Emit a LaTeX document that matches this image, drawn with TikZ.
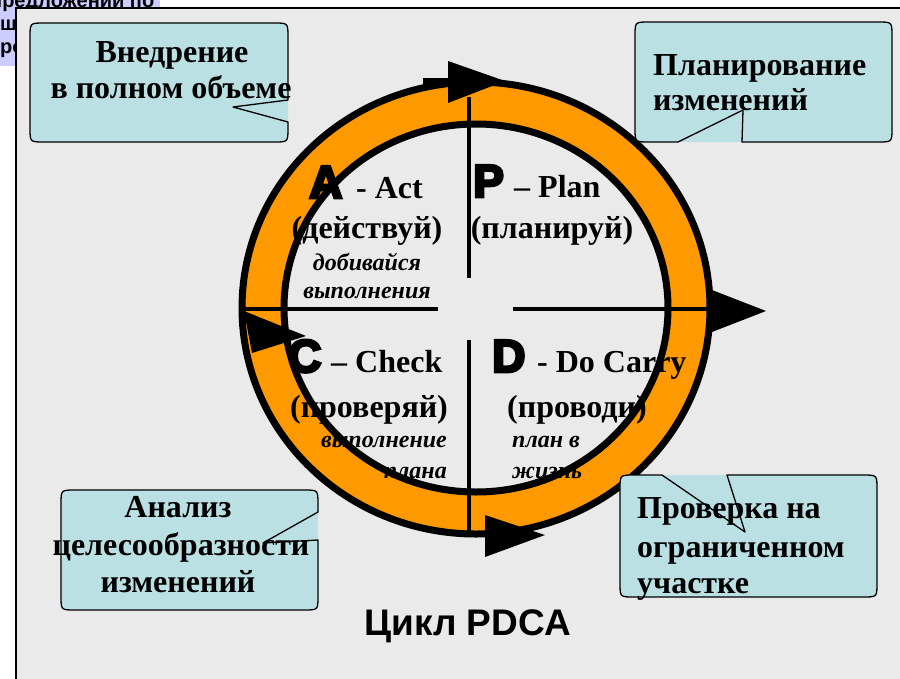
\documentclass[tikz,border=0pt]{standalone}
\usepackage{fontspec}
\setmainfont{Liberation Serif}
\newfontfamily\sansf{Liberation Sans}
\newfontfamily\heavyf{Liberation Sans Bold}[FakeBold=6]
\definecolor{panel}{HTML}{EAEAEA}
\definecolor{ringc}{HTML}{FF9900}
\definecolor{callc}{HTML}{BBE0E3}
\definecolor{lav}{HTML}{CCCCFF}
\tikzset{
  maintxt/.style={font=\bfseries\fontsize{32}{36}\selectfont, inner sep=0pt},
  notetxt/.style={font=\bfseries\itshape\fontsize{24}{28}\selectfont, inner sep=0pt},
  bigltr/.style={font=\heavyf\fontsize{46}{50}\selectfont, inner sep=0pt},
  lavtxt/.style={font=\sansf\bfseries\fontsize{20}{23}\selectfont, inner sep=0pt, anchor=base west},
  callbox/.style={fill=callc},
  callline/.style={draw=black, line width=1.3pt, line join=round},
  crossline/.style={line width=3.5pt},
  ringline/.style={line width=7pt},
  arrowhead/.style={fill=black}
}
\begin{document}
\begin{tikzpicture}[x=1pt,y=-1pt]
\useasboundingbox (0,0) rectangle (900,678);
\clip (0,0) rectangle (900,678);
\fill[white] (0,0) rectangle (900,678);
% lavender box behind panel
\fill[lav] (0,-5) rectangle (160,66);
\node[lavtxt] (lav1) at (-10,7) {предложений по};
\node[lavtxt] (lav2) at (0,30) {ше};
\node[lavtxt] (lav3) at (0,53) {ро};
% panel
\draw[fill=panel, line width=1.3pt] (16,8) rectangle (910,690);
% orange ring
\fill[ringc, even odd rule] (476,308) ellipse [x radius=234pt, y radius=226pt]
  (476,308) ellipse [x radius=192pt, y radius=184pt];
% cross lines
\coordinate (vt1) at (469,97);  \coordinate (vt2) at (469,278);
\coordinate (vb1) at (469,340); \coordinate (vb2) at (469,532);
\coordinate (hl1) at (240,309); \coordinate (hl2) at (438,309);
\coordinate (hr1) at (513,309); \coordinate (hr2) at (712,309);
\draw[crossline] (vt1) -- (vt2);
\draw[crossline] (vb1) -- (vb2);
\draw[crossline] (hl1) -- (hl2);
\draw[crossline] (hr1) -- (hr2);
% texts in circle
\node[bigltr, anchor=base west] (Aletter) at (309,198) {A};
\node[maintxt, anchor=base west] (Aword) at (356,198) {- Act};
\node[maintxt, anchor=base] (Aru) at (367,238) {(действуй)};
\node[notetxt, anchor=base] (Anote1) at (367,270) {добивайся};
\node[notetxt, anchor=base] (Anote2) at (367,298) {выполнения};
\node[bigltr, anchor=base west] (Pletter) at (473,197) {P};
\node[maintxt, anchor=base west] (Pword) at (514,197) {– Plan};
\node[maintxt, anchor=base] (Pru) at (552,238) {(планируй)};
\node[bigltr, anchor=base west] (Cletter) at (288,372) {C};
\node[maintxt, anchor=base west] (Cword) at (331,372) {– Check};
\node[maintxt, anchor=base] (Cru) at (369,417) {(проверяй)};
\node[notetxt, anchor=base east] (Cnote1) at (447,447) {выполнение};
\node[notetxt, anchor=base east] (Cnote2) at (447,478) {плана};
\node[bigltr, anchor=base west] (Dletter) at (492,372) {D};
\node[maintxt, anchor=base west] (Dword) at (537,372) {- Do Carry};
\node[maintxt, anchor=base] (Dru) at (577,417) {(проводи)};
\node[notetxt, anchor=base west] (Dnote1) at (512,447) {план в};
\node[notetxt, anchor=base west] (Dnote2) at (512,478) {жизнь};
% ring outlines
\draw[ringline] (476,308) ellipse [x radius=234pt, y radius=226pt];
\draw[ringline] (476,308) ellipse [x radius=192pt, y radius=184pt];
% arrowheads
\fill[arrowhead] (423,78) rectangle (450,86);
\fill[arrowhead] (448,61) -- (505,81) -- (448,103) -- cycle;
\fill[arrowhead] (712,290) -- (766,311) -- (712,332) -- cycle;
\fill[arrowhead] (485,515) -- (545,535) -- (485,557) -- cycle;
\fill[arrowhead] (244,311) -- (306,336) -- (252,353) -- cycle;
% callout 1 (top-left)
\fill[callbox] (44,23) -- (274,23) .. controls (288,23) .. (288,37) -- (288,128)
  .. controls (288,142) .. (274,142) -- (44,142) .. controls (30,142) .. (30,128)
  -- (30,37) .. controls (30,23) .. (44,23) -- cycle;
\draw[callline] (44,23) -- (274,23) .. controls (288,23) .. (288,37) -- (288,100)
  -- (233,107) -- (288,122) -- (288,128) .. controls (288,142) .. (274,142)
  -- (44,142) .. controls (30,142) .. (30,128) -- (30,37) .. controls (30,23) .. (44,23) -- cycle;
\node[maintxt, anchor=base] (c1a) at (172,62) {Внедрение};
\node[maintxt, anchor=base] (c1b) at (171,98) {в полном объеме};
% callout 2 (top-right)
\fill[callbox] (649,22) -- (878,22) .. controls (892,22) .. (892,36) -- (892,128)
  .. controls (892,142) .. (878,142) -- (649,142) .. controls (635,142) .. (635,128)
  -- (635,36) .. controls (635,22) .. (649,22) -- cycle;
\draw[callline] (649,22) -- (878,22) .. controls (892,22) .. (892,36) -- (892,128)
  .. controls (892,142) .. (878,142) -- (742,142) -- (743,110) -- (678,142)
  -- (649,142) .. controls (635,142) .. (635,128) -- (635,36) .. controls (635,22) .. (649,22) -- cycle;
\node[maintxt, anchor=base west] (c2a) at (653,75) {Планирование};
\node[maintxt, anchor=base west] (c2b) at (653,110) {изменений};
% callout 3 (bottom-left)
\fill[callbox] (75,490) -- (304,490) .. controls (318,490) .. (318,504) -- (318,596)
  .. controls (318,610) .. (304,610) -- (75,610) .. controls (61,610) .. (61,596)
  -- (61,504) .. controls (61,490) .. (75,490) -- cycle;
\draw[callline] (75,490) -- (304,490) .. controls (318,490) .. (318,504) -- (318,512)
  -- (263,543) -- (318,540) -- (318,596) .. controls (318,610) .. (304,610)
  -- (75,610) .. controls (61,610) .. (61,596) -- (61,504) .. controls (61,490) .. (75,490) -- cycle;
\node[maintxt, anchor=base] (c3a) at (178,517) {Анализ};
\node[maintxt, anchor=base] (c3b) at (181,555) {целесообразности};
\node[maintxt, anchor=base] (c3c) at (178,592) {изменений};
% callout 4 (bottom-right)
\fill[callbox] (634,475) -- (863,475) .. controls (877,475) .. (877,489) -- (877,583)
  .. controls (877,597) .. (863,597) -- (634,597) .. controls (620,597) .. (620,583)
  -- (620,489) .. controls (620,475) .. (634,475) -- cycle;
\draw[callline] (634,475) -- (662,475) -- (745,532) -- (727,475) -- (863,475)
  .. controls (877,475) .. (877,489) -- (877,583) .. controls (877,597) .. (863,597)
  -- (634,597) .. controls (620,597) .. (620,583) -- (620,489) .. controls (620,475) .. (634,475) -- cycle;
\node[maintxt, anchor=base west] (c4a) at (637,518) {Проверка на};
\node[maintxt, anchor=base west] (c4b) at (637,557) {ограниченном};
\node[maintxt, anchor=base west] (c4c) at (637,593) {участке};
% title
\node[font=\sansf\bfseries\fontsize{37}{40}\selectfont, inner sep=0pt, anchor=base] (title) at (468,635) {Цикл PDCA};
\end{tikzpicture}
\end{document}
